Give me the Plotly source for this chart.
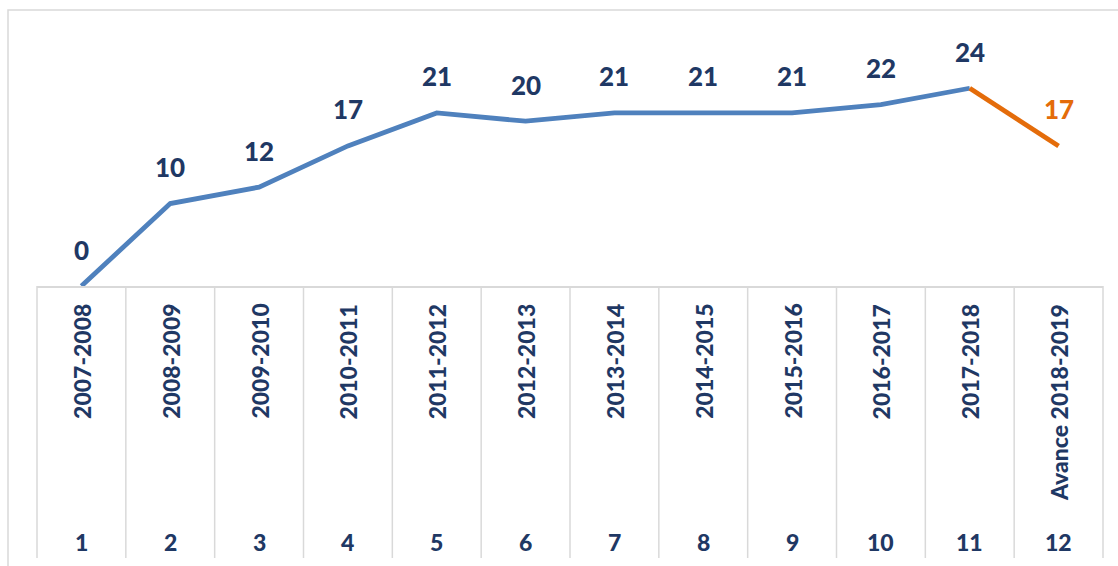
import plotly.graph_objects as go

# ---- data ----
periods = ["2007-2008", "2008-2009", "2009-2010", "2010-2011", "2011-2012", "2012-2013",
           "2013-2014", "2014-2015", "2015-2016", "2016-2017", "2017-2018", "Avance 2018-2019"]
numbers = ["1", "2", "3", "4", "5", "6", "7", "8", "9", "10", "11", "12"]
actual_values = [0, 10, 12, 17, 21, 20, 21, 21, 21, 22, 24]      # periods 1..11
forecast_values = [24, 17]                                        # periods 11..12

BLUE = "#4F81BD"
ORANGE = "#E46C0A"
NAVY = "#1F3864"
GRID = "#D9D9D9"
FONT = "Lato"
WEIGHT = 900

W, H = 1118, 566
L, R, T, B = 37, 15, 30, 280
plot_w = W - L - R
plot_h = H - T - B


def py2paper(py):
    return (H - B - py) / plot_h


def px2paper(px):
    return (px - L) / plot_w


n = len(periods)
x_actual = list(range(len(actual_values)))
x_fore = list(range(len(actual_values) - 1, len(actual_values) - 1 + len(forecast_values)))

fig = go.Figure()
fig.add_trace(go.Scatter(x=x_actual, y=actual_values, mode="lines",
                         line=dict(color=BLUE, width=4.8), cliponaxis=False,
                         hoverinfo="skip", showlegend=False))
fig.add_trace(go.Scatter(x=x_fore, y=forecast_values, mode="lines",
                         line=dict(color=ORANGE, width=4.8), cliponaxis=False,
                         hoverinfo="skip", showlegend=False))

annotations = []
# data labels
for xi, v in zip(x_actual, actual_values):
    annotations.append(dict(x=xi, y=v, xref="x", yref="y", text=str(v), showarrow=False,
                            yshift=36.5, yanchor="middle",
                            font=dict(family=FONT, size=26, color=NAVY, weight=WEIGHT)))
annotations.append(dict(x=x_fore[-1], y=forecast_values[-1], xref="x", yref="y",
                        text=str(forecast_values[-1]), showarrow=False,
                        yshift=36.5, yanchor="middle",
                        font=dict(family=FONT, size=26, color=ORANGE, weight=WEIGHT)))
# category labels
for i, (p, num) in enumerate(zip(periods, numbers)):
    annotations.append(dict(x=i, y=py2paper(302), xref="x", yref="paper", text=p,
                            showarrow=False, textangle=-90, yanchor="top", xanchor="center",
                            font=dict(family=FONT, size=23, color=NAVY, weight=WEIGHT)))
    annotations.append(dict(x=i, y=py2paper(542), xref="x", yref="paper", text=num,
                            showarrow=False, yanchor="middle", xanchor="center",
                            font=dict(family=FONT, size=23, color=NAVY, weight=WEIGHT)))

shapes = []
# category separators
for k in range(n + 1):
    shapes.append(dict(type="line", xref="paper", yref="paper",
                       x0=k / n, x1=k / n, y0=0, y1=py2paper(558),
                       line=dict(color=GRID, width=1.5), layer="below"))
# outer chart border
shapes.append(dict(type="rect", xref="paper", yref="paper",
                   x0=px2paper(8), x1=px2paper(1135), y0=py2paper(10), y1=py2paper(590),
                   line=dict(color=GRID, width=1.5), layer="below"))

fig.update_layout(
    width=W, height=H,
    margin=dict(l=L, r=R, t=T, b=B, autoexpand=False),
    paper_bgcolor="white", plot_bgcolor="white",
    xaxis=dict(range=[-0.5, n - 0.5], showgrid=False, zeroline=False, showticklabels=False,
               ticks="", showline=True, linecolor=GRID, linewidth=1.5, fixedrange=True),
    yaxis=dict(range=[0, (H - B - T) / 8.24], showgrid=False, zeroline=False,
               showticklabels=False, ticks="", showline=False, fixedrange=True),
    annotations=annotations,
    shapes=shapes,
    showlegend=False,
)

fig.write_html("out.html", config={"displayModeBar": False},
               post_script="document.body.style.margin='0';document.body.style.overflow='hidden';")
